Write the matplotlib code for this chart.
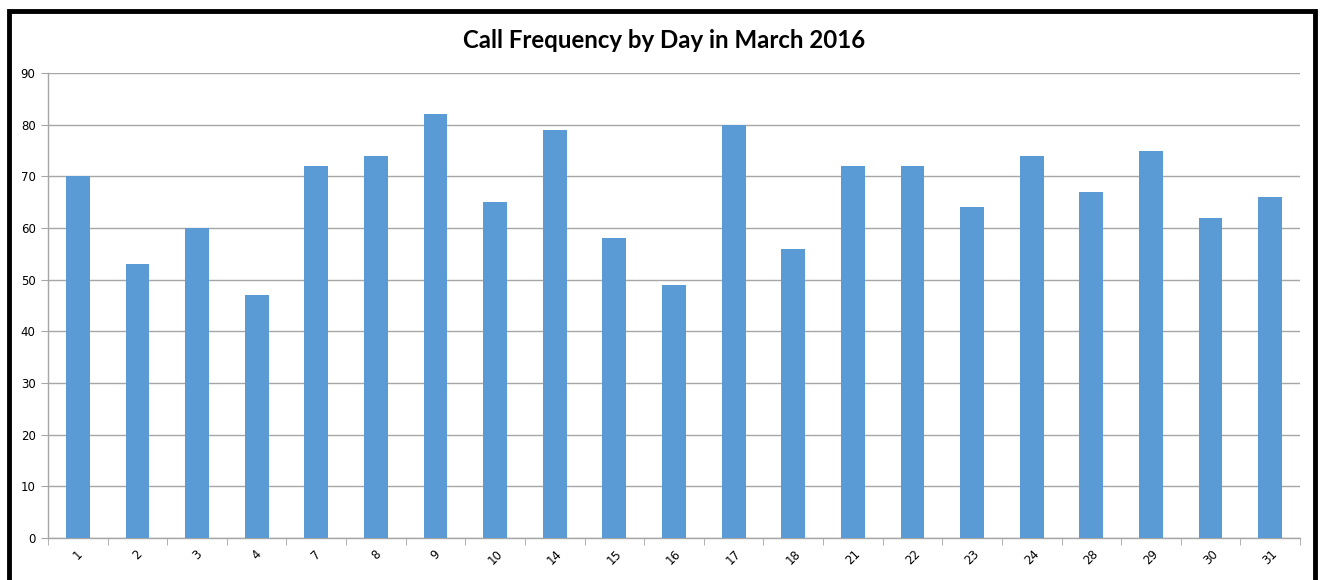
import matplotlib
matplotlib.use('Agg')
import matplotlib.pyplot as plt
from matplotlib.patches import Rectangle
import numpy as np

days = ['1', '2', '3', '4', '7', '8', '9', '10', '14', '15', '16',
        '17', '18', '21', '22', '23', '24', '28', '29', '30', '31']
calls = [70, 53, 60, 47, 72, 74, 82, 65, 79, 58, 49,
         80, 56, 72, 72, 64, 74, 67, 75, 62, 66]
yticks = list(range(0, 100, 10))

W, H = 1322, 580
fig = plt.figure(figsize=(W / 100, H / 100), dpi=100)
ax = fig.add_axes([48 / W, 1 - 538 / H, (1300 - 48) / W, (538 - 73) / H])

x = np.arange(len(days))
ax.bar(x, calls, width=0.4, color='#5B9BD5', zorder=3)

ax.set_xlim(-0.5, len(days) - 0.5)
ax.set_ylim(0, 90)
ax.set_yticks(yticks)
ax.set_yticklabels([str(v) for v in yticks], fontsize=8.5, family='DejaVu Sans')
ax.set_xticks(x)
ax.set_xticklabels(days, rotation=45, fontsize=8.5, family='DejaVu Sans')
ax.tick_params(axis='x', length=0, pad=7)
ax.set_xticks(np.arange(-0.5, len(days), 1), minor=True)
ax.tick_params(axis='x', which='minor', length=5, color='#A6A6A6', direction='out')
ax.tick_params(axis='y', length=5, color='#A6A6A6', pad=4)

ax.grid(axis='y', color='#A6A6A6', linewidth=1, zorder=0)
for s in ['top', 'right']:
    ax.spines[s].set_visible(False)
for s in ['left', 'bottom']:
    ax.spines[s].set_color('#A6A6A6')
    ax.spines[s].set_linewidth(1)

fig.text(664 / W, 1 - 40 / H, 'Call Frequency by Day in March 2016',
         ha='center', va='center', fontsize=17.3, fontweight='bold', family='Lato')

# frame around the chart
fig.patches.append(Rectangle((9 / W, -0.05), (1315 - 9) / W, 1 - 11 / H + 0.05,
                             transform=fig.transFigure, fill=False,
                             edgecolor='black', linewidth=3.5, clip_on=False))

fig.savefig('out.png', dpi=100)
